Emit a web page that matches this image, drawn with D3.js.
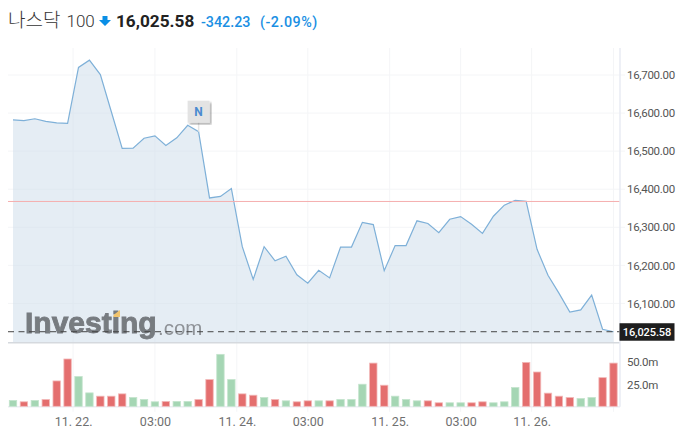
<!DOCTYPE html>
<html>
<head>
	<meta charset="utf-8" />
	<style>
		body {
			margin: 0;
			background-color: #fff;
			overflow: hidden;
		}

		svg {
			display: block;
			font-family: Roboto, sans-serif;
		}
	</style>
</head>

<body>
	<div id="chart-area"></div>

	<script src="https://cdnjs.cloudflare.com/ajax/libs/d3/7.8.5/d3.min.js"></script>
	<script>
		// prices, one per bar
		const prices = [
			16582, 16580, 16585, 16578, 16574, 16573, 16720, 16739, 16701, 16604,
			16507, 16508, 16534, 16540, 16515, 16535, 16568, 16551, 16377, 16381,
			16402, 16249, 16163, 16249, 16212, 16224, 16175, 16153, 16187, 16167,
			16248, 16248, 16313, 16307, 16186, 16252, 16252, 16317, 16310, 16286,
			16321, 16328, 16308, 16284, 16329, 16358, 16371, 16368, 16242, 16174,
			16127, 16077, 16083, 16122, 16032, 16025.58
		];
		// volume in millions
		const volumes = [
			7.1, 5.6, 7.1, 8.2, 29, 53.6, 33.9, 15.6, 11.9, 11.9,
			14.5, 10.4, 8.2, 5.6, 6, 6, 6, 8.2, 30.5, 58.8,
			30.5, 14.5, 13, 10.4, 8.2, 6.7, 5.6, 6.7, 6.7, 6.7,
			8.2, 8.2, 25.3, 49, 24.2, 11.9, 8.2, 6.7, 6.7, 4.5,
			4.5, 4.5, 4.5, 5.6, 4.5, 5.6, 21.6, 49.8, 39, 15.3,
			11.9, 10.4, 9.3, 10.4, 32.7, 49
		];
		// 1 = green bar, 0 = red bar
		const volumeUp = [
			1, 0, 1, 0, 0, 0, 1, 1, 0, 0,
			0, 1, 1, 1, 0, 1, 1, 0, 0, 1,
			1, 0, 0, 1, 0, 1, 0, 0, 1, 0,
			1, 1, 1, 0, 0, 1, 1, 1, 0, 0,
			1, 1, 0, 0, 1, 1, 1, 0, 0, 0,
			0, 0, 1, 1, 0, 0
		];
		const priceTicks = [16100, 16200, 16300, 16400, 16500, 16600, 16700];
		const volumeTicks = [25, 50];
		// time ticks sit on bar indexes, some of them between two bars
		const timeTickIndex = [5.5, 13, 20.5, 27, 34.5, 41, 47.5, 55];
		const timeTickLabels = ['11. 22.', '03:00', '11. 24.', '03:00', '11. 25.', '03:00', '11. 26.', ''];

		const lastPrice = 16025.58;
		const prevClose = 16367.81;
		const newsIndex = 17;

		const width = 685,
			height = 435,
			plotLeft = 8,
			axisX = 620,
			plotTop = 48,
			priceBottom = 342.7,
			volumeBottom = 406.8;

		const svg = d3
			.select('#chart-area')
			.append('svg')
			.attr('width', width)
			.attr('height', height);

		const x = d3.scaleLinear().domain([0, 55]).range([13, 613.5]);
		const y = d3
			.scaleLinear()
			.domain([16100, 16700])
			.range([303.4, 75]);
		const yVol = d3
			.scaleLinear()
			.domain([0, 50])
			.range([volumeBottom, 362.2]);

		const defs = svg.append('defs');
		const shadow = defs.append('filter').attr('id', 'shadow');
		shadow
			.append('feDropShadow')
			.attr('dx', 2)
			.attr('dy', 2)
			.attr('stdDeviation', 1.2)
			.attr('flood-color', '#000')
			.attr('flood-opacity', 0.3);
		defs.append('filter')
			.attr('id', 'soft')
			.append('feGaussianBlur')
			.attr('stdDeviation', 0.5);

		// header
		const header = svg.append('g');
		header
			.append('text')
			.attr('x', 8)
			.attr('y', 27)
			.attr('font-family', '"Noto Sans CJK KR", Roboto, sans-serif')
			.attr('font-size', 19)
			.attr('font-weight', 300)
			.attr('fill', '#333')
			.text('나스닥');
		header
			.append('text')
			.attr('x', 66.5)
			.attr('y', 27)
			.attr('font-size', 17)
			.attr('font-weight', 300)
			.attr('fill', '#333')
			.text('100');
		header
			.append('path')
			.attr('d', 'M102.5 16h5v4h3.5l-6 6-6-6h3.5z')
			.attr('fill', '#0a8fe6');
		header
			.append('text')
			.attr('x', 116)
			.attr('y', 27)
			.attr('font-size', 17.2)
			.attr('font-weight', 700)
			.attr('fill', '#222')
			.text('16,025.58');
		header
			.append('text')
			.attr('x', 201)
			.attr('y', 26.5)
			.attr('font-size', 14.3)
			.attr('font-weight', 500)
			.attr('fill', '#1a8fe3')
			.text('-342.23');
		header
			.append('text')
			.attr('x', 260)
			.attr('y', 26.5)
			.attr('font-size', 14.3)
			.attr('font-weight', 500)
			.attr('fill', '#1a8fe3')
			.attr('letter-spacing', 0.5)
			.text('(-2.09%)');

		// grid
		svg.append('g')
			.selectAll('line')
			.data(priceTicks)
			.join('line')
			.attr('x1', plotLeft)
			.attr('x2', axisX + 5)
			.attr('y1', d => y(d))
			.attr('y2', d => y(d))
			.attr('stroke', '#f4f5f7');
		svg.append('g')
			.selectAll('line')
			.data(timeTickIndex)
			.join('line')
			.attr('x1', d => x(d))
			.attr('x2', d => x(d))
			.attr('y1', plotTop)
			.attr('y2', volumeBottom + 5)
			.attr('stroke', '#f4f5f7');

		// price area
		const area = d3
			.area()
			.x((d, i) => x(i))
			.y0(priceBottom)
			.y1(d => y(d));
		const line = d3
			.line()
			.x((d, i) => x(i))
			.y(d => y(d));

		svg.append('path')
			.attr('d', area(prices))
			.attr('fill', '#cfdeeb')
			.attr('fill-opacity', 0.55);

		svg.append('path')
			.attr('d', line(prices))
			.attr('fill', 'none')
			.attr('stroke', '#7eb0d8')
			.attr('stroke-width', 1.2);

		// previous close
		svg.append('line')
			.attr('x1', plotLeft)
			.attr('x2', axisX)
			.attr('y1', y(prevClose))
			.attr('y2', y(prevClose))
			.attr('stroke', '#f5aeae')
			.attr('stroke-width', 1);

		// logo, drawn as text
		const logo = svg.append('g').attr('filter', 'url(#soft)');
		logo.append('text')
			.attr('x', 25)
			.attr('y', 333)
			.attr('font-family', '"Liberation Sans", sans-serif')
			.attr('font-size', 30)
			.attr('font-weight', 700)
			.attr('fill', '#777b80')
			.attr('stroke', '#777b80')
			.attr('stroke-width', 0.9)
			.text('Investing');
		logo.append('text')
			.attr('x', 158)
			.attr('y', 335)
			.attr('font-family', '"Liberation Sans", sans-serif')
			.attr('font-size', 20.5)
			.attr('fill', '#8f9398')
			.text('.com');
		logo.append('path')
			.attr('d', 'M113.5 317v-2l6.5-5v7z')
			.attr('fill', '#f2c46d');

		// last price
		svg.append('line')
			.attr('x1', plotLeft)
			.attr('x2', axisX)
			.attr('y1', y(lastPrice))
			.attr('y2', y(lastPrice))
			.attr('stroke', '#444')
			.attr('stroke-dasharray', '6 4.5');

		// pane borders
		svg.append('line')
			.attr('x1', plotLeft)
			.attr('x2', axisX)
			.attr('y1', priceBottom)
			.attr('y2', priceBottom)
			.attr('stroke', '#d5d9de')
			.attr('stroke-width', 1.5);
		svg.append('line')
			.attr('x1', plotLeft)
			.attr('x2', axisX)
			.attr('y1', volumeBottom)
			.attr('y2', volumeBottom)
			.attr('stroke', '#eceef4')
			.attr('stroke-width', 1.5);
		svg.append('line')
			.attr('x1', axisX)
			.attr('x2', axisX)
			.attr('y1', plotTop)
			.attr('y2', volumeBottom)
			.attr('stroke', '#e8ebf3')
			.attr('stroke-width', 1.5);

		// volume bars
		svg.append('g')
			.selectAll('rect')
			.data(volumes)
			.join('rect')
			.attr('x', (d, i) => x(i) - 3.7)
			.attr('y', d => yVol(d))
			.attr('width', 7.4)
			.attr('height', d => volumeBottom - yVol(d) - 0.5)
			.attr('fill', (d, i) => (volumeUp[i] ? '#a5d6b4' : '#e46e6e'))
			.attr('stroke', (d, i) => (volumeUp[i] ? '#c4e4cd' : '#f2b9b9'))
			.attr('stroke-width', 0.8);

		// news marker
		const nx = x(newsIndex);
		const ny = y(prices[newsIndex]);
		svg.append('line')
			.attr('x1', nx)
			.attr('x2', nx)
			.attr('y1', ny - 10)
			.attr('y2', ny)
			.attr('stroke', '#e4e4e4')
			.attr('stroke-width', 1.5);
		svg.append('rect')
			.attr('x', nx - 11)
			.attr('y', ny - 31)
			.attr('width', 22)
			.attr('height', 22)
			.attr('fill', '#e3e3e3')
			.attr('filter', 'url(#shadow)');
		svg.append('text')
			.attr('x', nx)
			.attr('y', ny - 15.5)
			.attr('text-anchor', 'middle')
			.attr('font-size', 12)
			.attr('font-weight', 700)
			.attr('fill', '#4a8bd0')
			.text('N');

		// right axis labels
		const priceFormat = d3.format(',.2f');
		const priceAxis = d3
			.axisRight(y)
			.tickValues(priceTicks)
			.tickFormat(priceFormat)
			.tickSize(0)
			.tickPadding(7);
		const priceAxisG = svg
			.append('g')
			.attr('transform', `translate(${axisX},0)`)
			.call(priceAxis);
		priceAxisG.select('.domain').remove();
		priceAxisG
			.selectAll('text')
			.attr('font-family', 'Roboto, sans-serif')
			.attr('font-size', 11.5)
			.attr('letter-spacing', -0.3)
			.attr('fill', '#555');

		const volAxis = d3
			.axisRight(yVol)
			.tickValues(volumeTicks)
			.tickFormat(d => d.toFixed(1) + 'm')
			.tickSize(0)
			.tickPadding(7);
		const volAxisG = svg
			.append('g')
			.attr('transform', `translate(${axisX},0)`)
			.call(volAxis);
		volAxisG.select('.domain').remove();
		volAxisG
			.selectAll('text')
			.attr('font-family', 'Roboto, sans-serif')
			.attr('font-size', 11.5)
			.attr('letter-spacing', -0.3)
			.attr('fill', '#555');

		// time labels
		const timeAxis = d3
			.axisBottom(x)
			.tickValues(timeTickIndex)
			.tickFormat((d, i) => timeTickLabels[i])
			.tickSize(0)
			.tickPadding(10);
		const timeAxisG = svg
			.append('g')
			.attr('transform', `translate(0,${volumeBottom})`)
			.call(timeAxis);
		timeAxisG.select('.domain').remove();
		timeAxisG
			.selectAll('text')
			.attr('font-family', 'Roboto, sans-serif')
			.attr('font-size', 12.5)
			.attr('fill', '#707070');

		// last price tag
		svg.append('rect')
			.attr('x', axisX - 0.5)
			.attr('y', y(lastPrice) - 8.5)
			.attr('width', 55)
			.attr('height', 17.5)
			.attr('fill', '#1e1e1e');
		svg.append('text')
			.attr('x', axisX + 27)
			.attr('y', y(lastPrice) + 4)
			.attr('text-anchor', 'middle')
			.attr('font-size', 11)
			.attr('font-weight', 500)
			.attr('letter-spacing', -0.1)
			.attr('fill', '#fff')
			.text(priceFormat(lastPrice));
	</script>
</body>
</html>
